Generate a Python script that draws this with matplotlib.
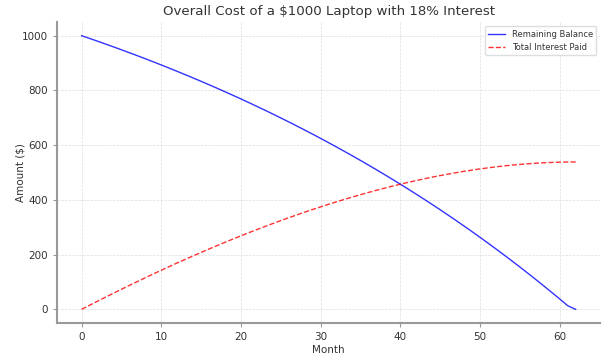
import matplotlib.pyplot as plt

# Monthly values (month 0..62)
months = list(range(63))
remaining_balance = [
    1000.0, 990.0, 979.9, 969.5, 959.1, 948.5, 937.7, 926.8, 915.7, 904.4,
    893.0, 881.4, 869.6, 857.6, 845.5, 833.2, 820.7, 808.0, 795.1, 782.0,
    768.8, 755.3, 741.6, 727.8, 713.7, 699.4, 684.9, 670.1, 655.2, 640.0,
    624.6, 609.0, 593.1, 577.0, 560.7, 544.1, 527.2, 510.2, 492.8, 475.2,
    457.3, 439.2, 420.8, 402.1, 383.1, 363.9, 344.3, 324.5, 304.4, 283.9,
    263.2, 242.1, 220.8, 199.1, 177.1, 154.7, 132.0, 109.0, 85.6, 61.9,
    37.9, 13.4, 0.0,
]
interest_paid = [
    0.0, 15.0, 29.9, 44.6, 59.1, 73.5, 87.7, 101.8, 115.7, 129.4,
    143.0, 156.4, 169.6, 182.6, 195.5, 208.2, 220.7, 233.0, 245.1, 257.0,
    268.8, 280.3, 291.6, 302.8, 313.7, 324.4, 334.9, 345.1, 355.2, 365.0,
    374.6, 384.0, 393.1, 402.0, 410.7, 419.1, 427.2, 435.2, 442.8, 450.2,
    457.3, 464.2, 470.8, 477.1, 483.1, 488.9, 494.3, 499.5, 504.4, 508.9,
    513.2, 517.1, 520.8, 524.1, 527.1, 529.7, 532.0, 534.0, 535.6, 536.9,
    537.9, 538.4, 538.6,
]

text_col = '#333333'
plt.rcParams['font.family'] = 'DejaVu Sans'

fig = plt.figure(figsize=(6.12, 3.55), dpi=100)
ax = fig.add_axes([0.093, 0.09, 0.888, 0.848])

ax.plot(months, remaining_balance, color='blue', linewidth=1.0, alpha=0.8,
        label='Remaining Balance')
ax.plot(months, interest_paid, color='red', linewidth=1.0, alpha=0.8,
        linestyle='--', label='Total Interest Paid')

ax.set_title('Overall Cost of a $1000 Laptop with 18% Interest',
             fontsize=9.6, color=text_col, pad=5)
ax.set_xlabel('Month', fontsize=7.5, color=text_col, labelpad=2)
ax.set_ylabel('Amount ($)', fontsize=7.5, color=text_col, labelpad=-3)
ax.grid(True, linestyle='--', linewidth=0.5, color='#dddddd')
ax.set_axisbelow(True)
for side in ['top', 'right']:
    ax.spines[side].set_visible(False)
for side in ['left', 'bottom']:
    ax.spines[side].set_color('#999999')
    ax.spines[side].set_linewidth(1.5)
ax.tick_params(labelsize=7.5, colors=text_col, length=3, color='#999999')
ax.legend(loc='upper right', fontsize=6, labelcolor=text_col,
          framealpha=1, edgecolor='#dddddd')

plt.savefig('out.png', dpi=100)
